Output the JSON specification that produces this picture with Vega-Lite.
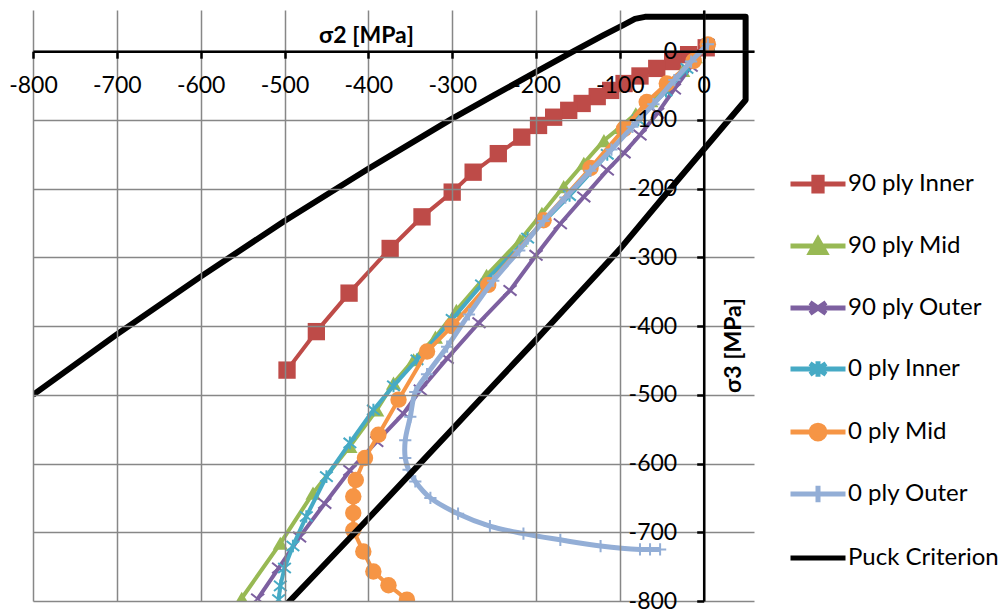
{
  "$schema": "https://vega.github.io/schema/vega-lite/v6.json",
  "width": 721,
  "height": 591,
  "autosize": "none",
  "padding": {"left": 33, "top": 10, "right": 253, "bottom": 9},
  "background": "white",
  "config": {"view": {"stroke": null}, "font": "Lato"},
  "data": {"values": [
    {"s":"90 ply Inner","x":3,"y":5},{"s":"90 ply Inner","x":-18,"y":-5},{"s":"90 ply Inner","x":-37,"y":-15},{"s":"90 ply Inner","x":-56,"y":-25},{"s":"90 ply Inner","x":-76,"y":-36},{"s":"90 ply Inner","x":-95,"y":-47},{"s":"90 ply Inner","x":-111,"y":-57},{"s":"90 ply Inner","x":-127,"y":-66},{"s":"90 ply Inner","x":-145,"y":-76},{"s":"90 ply Inner","x":-161,"y":-86},{"s":"90 ply Inner","x":-179,"y":-96},{"s":"90 ply Inner","x":-197,"y":-108},{"s":"90 ply Inner","x":-217,"y":-125},{"s":"90 ply Inner","x":-245,"y":-149},{"s":"90 ply Inner","x":-275,"y":-176},{"s":"90 ply Inner","x":-300,"y":-205},{"s":"90 ply Inner","x":-336,"y":-241},{"s":"90 ply Inner","x":-374,"y":-287},{"s":"90 ply Inner","x":-423,"y":-352},{"s":"90 ply Inner","x":-462,"y":-408},{"s":"90 ply Inner","x":-497,"y":-464},
    {"s":"90 ply Mid","x":5,"y":10},{"s":"90 ply Mid","x":-10,"y":-8},{"s":"90 ply Mid","x":-25,"y":-28},{"s":"90 ply Mid","x":-45,"y":-52},{"s":"90 ply Mid","x":-63,"y":-72},{"s":"90 ply Mid","x":-81,"y":-91},{"s":"90 ply Mid","x":-100,"y":-111},{"s":"90 ply Mid","x":-119,"y":-130},{"s":"90 ply Mid","x":-143,"y":-163},{"s":"90 ply Mid","x":-167,"y":-197},{"s":"90 ply Mid","x":-193,"y":-236},{"s":"90 ply Mid","x":-219,"y":-275},{"s":"90 ply Mid","x":-259,"y":-326},{"s":"90 ply Mid","x":-295,"y":-377},{"s":"90 ply Mid","x":-320,"y":-416},{"s":"90 ply Mid","x":-346,"y":-449},{"s":"90 ply Mid","x":-370,"y":-483},{"s":"90 ply Mid","x":-390,"y":-522},{"s":"90 ply Mid","x":-422,"y":-575},{"s":"90 ply Mid","x":-466,"y":-643},{"s":"90 ply Mid","x":-505,"y":-716},{"s":"90 ply Mid","x":-551,"y":-796},
    {"s":"90 ply Outer","x":5,"y":10},{"s":"90 ply Outer","x":-15,"y":-22},{"s":"90 ply Outer","x":-35,"y":-55},{"s":"90 ply Outer","x":-55,"y":-90},{"s":"90 ply Outer","x":-76,"y":-122},{"s":"90 ply Outer","x":-95,"y":-148},{"s":"90 ply Outer","x":-115,"y":-173},{"s":"90 ply Outer","x":-143,"y":-212},{"s":"90 ply Outer","x":-171,"y":-251},{"s":"90 ply Outer","x":-200,"y":-297},{"s":"90 ply Outer","x":-231,"y":-348},{"s":"90 ply Outer","x":-268,"y":-395},{"s":"90 ply Outer","x":-306,"y":-447},{"s":"90 ply Outer","x":-338,"y":-493},{"s":"90 ply Outer","x":-358,"y":-527},{"s":"90 ply Outer","x":-390,"y":-568},{"s":"90 ply Outer","x":-422,"y":-610},{"s":"90 ply Outer","x":-452,"y":-658},{"s":"90 ply Outer","x":-482,"y":-707},{"s":"90 ply Outer","x":-507,"y":-752},{"s":"90 ply Outer","x":-532,"y":-797},
    {"s":"0 ply Inner","x":5,"y":10},{"s":"0 ply Inner","x":-20,"y":-25},{"s":"0 ply Inner","x":-45,"y":-58},{"s":"0 ply Inner","x":-78,"y":-100},{"s":"0 ply Inner","x":-115,"y":-150},{"s":"0 ply Inner","x":-160,"y":-210},{"s":"0 ply Inner","x":-210,"y":-272},{"s":"0 ply Inner","x":-265,"y":-340},{"s":"0 ply Inner","x":-300,"y":-390},{"s":"0 ply Inner","x":-342,"y":-449},{"s":"0 ply Inner","x":-370,"y":-487},{"s":"0 ply Inner","x":-394,"y":-522},{"s":"0 ply Inner","x":-422,"y":-570},{"s":"0 ply Inner","x":-450,"y":-619},{"s":"0 ply Inner","x":-474,"y":-677},{"s":"0 ply Inner","x":-490,"y":-720},{"s":"0 ply Inner","x":-500,"y":-752},{"s":"0 ply Inner","x":-505,"y":-778},{"s":"0 ply Inner","x":-507,"y":-798},
    {"s":"0 ply Mid","x":5,"y":10},{"s":"0 ply Mid","x":-12,"y":-14},{"s":"0 ply Mid","x":-44,"y":-47},{"s":"0 ply Mid","x":-68,"y":-74},{"s":"0 ply Mid","x":-95,"y":-113},{"s":"0 ply Mid","x":-135,"y":-170},{"s":"0 ply Mid","x":-191,"y":-246},{"s":"0 ply Mid","x":-257,"y":-340},{"s":"0 ply Mid","x":-300,"y":-400},{"s":"0 ply Mid","x":-330,"y":-437},{"s":"0 ply Mid","x":-364,"y":-507},{"s":"0 ply Mid","x":-388,"y":-558},{"s":"0 ply Mid","x":-404,"y":-592},{"s":"0 ply Mid","x":-415,"y":-624},{"s":"0 ply Mid","x":-418,"y":-648},{"s":"0 ply Mid","x":-418,"y":-672},{"s":"0 ply Mid","x":-418,"y":-697},{"s":"0 ply Mid","x":-406,"y":-728},{"s":"0 ply Mid","x":-394,"y":-757},{"s":"0 ply Mid","x":-376,"y":-777},{"s":"0 ply Mid","x":-354,"y":-798},
    {"s":"0 ply Outer","x":5,"y":10},{"s":"0 ply Outer","x":-15,"y":-15},{"s":"0 ply Outer","x":-35,"y":-42},{"s":"0 ply Outer","x":-60,"y":-77},{"s":"0 ply Outer","x":-85,"y":-110},{"s":"0 ply Outer","x":-110,"y":-143},{"s":"0 ply Outer","x":-135,"y":-174},{"s":"0 ply Outer","x":-165,"y":-213},{"s":"0 ply Outer","x":-191,"y":-247},{"s":"0 ply Outer","x":-220,"y":-290},{"s":"0 ply Outer","x":-251,"y":-334},{"s":"0 ply Outer","x":-280,"y":-383},{"s":"0 ply Outer","x":-306,"y":-430},{"s":"0 ply Outer","x":-330,"y":-470},{"s":"0 ply Outer","x":-344,"y":-496},{"s":"0 ply Outer","x":-350,"y":-532},{"s":"0 ply Outer","x":-356,"y":-566},{"s":"0 ply Outer","x":-356,"y":-592},{"s":"0 ply Outer","x":-352,"y":-609},{"s":"0 ply Outer","x":-344,"y":-626},{"s":"0 ply Outer","x":-326,"y":-650},{"s":"0 ply Outer","x":-293,"y":-673},{"s":"0 ply Outer","x":-255,"y":-691},{"s":"0 ply Outer","x":-215,"y":-702},{"s":"0 ply Outer","x":-171,"y":-711},{"s":"0 ply Outer","x":-123,"y":-720},{"s":"0 ply Outer","x":-76,"y":-725},{"s":"0 ply Outer","x":-64,"y":-725},{"s":"0 ply Outer","x":-52,"y":-725},
    {"s":"Puck Criterion","x":-800,"y":-500},{"s":"Puck Criterion","x":-700,"y":-412},{"s":"Puck Criterion","x":-600,"y":-328},{"s":"Puck Criterion","x":-500,"y":-247},{"s":"Puck Criterion","x":-400,"y":-171},{"s":"Puck Criterion","x":-300,"y":-98},{"s":"Puck Criterion","x":-250,"y":-64},{"s":"Puck Criterion","x":-200,"y":-30},{"s":"Puck Criterion","x":-155,"y":0},{"s":"Puck Criterion","x":-120,"y":23},{"s":"Puck Criterion","x":-96,"y":38},{"s":"Puck Criterion","x":-82,"y":47},{"s":"Puck Criterion","x":-70,"y":50},{"s":"Puck Criterion","x":50,"y":50},{"s":"Puck Criterion","x":50,"y":-71},{"s":"Puck Criterion","x":0,"y":-143},{"s":"Puck Criterion","x":-50,"y":-215},{"s":"Puck Criterion","x":-100,"y":-288},{"s":"Puck Criterion","x":-150,"y":-354},{"s":"Puck Criterion","x":-200,"y":-420},{"s":"Puck Criterion","x":-250,"y":-485},{"s":"Puck Criterion","x":-300,"y":-550},{"s":"Puck Criterion","x":-350,"y":-615},{"s":"Puck Criterion","x":-400,"y":-680},{"s":"Puck Criterion","x":-450,"y":-744},{"s":"Puck Criterion","x":-500,"y":-808},{"s":"Puck Criterion","x":-520,"y":-834}
  ]},
  "encoding": {
    "x": {"field": "x", "type": "quantitative",
      "scale": {"domain": [-800, 60], "nice": false, "zero": false},
      "axis": {"orient": "bottom", "offset": -549.8, "values": [-800,-700,-600,-500,-400,-300,-200,-100,0],
        "labelExpr": "'' + datum.value",
        "grid": true, "gridColor": "#878787", "gridWidth": 1.5,
        "domainColor": "#000000", "domainWidth": 2.5, "tickColor": "#000000", "tickWidth": 2.5, "tickSize": 7,
        "labelFontSize": 23, "labelColor": "#000000", "labelPadding": 16, "labelFlush": false, "labelOverlap": false, "labelBound": false,
        "title": "σ2 [MPa]", "titleFontSize": 23, "titleFontWeight": "bold", "titleColor": "#000000",
        "titleX": 333, "titleY": -16, "titleBaseline": "middle", "titleAlign": "center", "zindex": 1}},
    "y": {"field": "y", "type": "quantitative",
      "scale": {"domain": [-800, 60], "nice": false, "zero": false},
      "axis": {"orient": "left", "offset": -670.7, "values": [-800,-700,-600,-500,-400,-300,-200,-100,0],
        "labelExpr": "'' + datum.value",
        "grid": true, "gridColor": "#878787", "gridWidth": 1.5,
        "domainColor": "#000000", "domainWidth": 2.5, "tickColor": "#000000", "tickWidth": 2.5, "tickSize": 7,
        "labelFontSize": 23, "labelColor": "#000000", "labelPadding": 20, "labelOverlap": false, "labelBound": false, "labelFlush": false,
        "title": "σ3 [MPa]", "titleFontSize": 23, "titleFontWeight": "bold", "titleColor": "#000000",
        "titleX": 30, "titleY": 335, "titleAngle": 270, "titleBaseline": "middle", "titleAlign": "center", "zindex": 1}}
  },
  "layer": [
    {"transform": [{"filter": "datum.s === '90 ply Inner'"}],
     "mark": {"type": "line", "color": "#BE4B48", "strokeWidth": 4, "clip": true,
       "point": {"shape": "square", "size": 300, "filled": true, "color": "#BE4B48", "clip": true}},
     "encoding": {"order": {"value": null}}},
    {"transform": [{"filter": "datum.s === '90 ply Mid'"}],
     "mark": {"type": "line", "color": "#98B954", "strokeWidth": 4, "clip": true,
       "point": {"shape": "triangle-up", "size": 230, "filled": true, "color": "#98B954", "clip": true}},
     "encoding": {"order": {"value": null}}},
    {"transform": [{"filter": "datum.s === '90 ply Outer'"}],
     "mark": {"type": "line", "color": "#7D60A0", "strokeWidth": 4, "clip": true,
       "point": {"shape": "M-1,-0.8L1,0.8M-1,0.8L1,-0.8", "size": 170, "filled": false, "strokeWidth": 2, "color": "#7D60A0", "clip": true}},
     "encoding": {"order": {"value": null}}},
    {"transform": [{"filter": "datum.s === '0 ply Inner'"}],
     "mark": {"type": "line", "color": "#46AAC5", "strokeWidth": 4, "clip": true,
       "point": {"shape": "M-1,-0.8L1,0.8M-1,0.8L1,-0.8M0,-1V1", "size": 160, "filled": false, "strokeWidth": 2, "color": "#46AAC5", "clip": true}},
     "encoding": {"order": {"value": null}}},
    {"transform": [{"filter": "datum.s === '0 ply Mid'"}],
     "mark": {"type": "line", "color": "#F69545", "strokeWidth": 4, "clip": true,
       "point": {"shape": "circle", "size": 270, "filled": true, "color": "#F69545", "opacity": 1, "clip": true}},
     "encoding": {"order": {"value": null}}},
    {"transform": [{"filter": "datum.s === '0 ply Outer'"}],
     "mark": {"type": "line", "color": "#93AED6", "strokeWidth": 5, "interpolate": "catmull-rom", "clip": true,
       "point": {"shape": "M-1,0H1M0,-1V1", "size": 150, "filled": false, "strokeWidth": 2, "color": "#93AED6", "clip": true}},
     "encoding": {"order": {"value": null}}},
    {"transform": [{"filter": "datum.s === 'Puck Criterion'"}],
     "mark": {"type": "line", "color": "#000000", "strokeWidth": 6, "strokeJoin": "round", "clip": true},
     "encoding": {"order": {"value": null}}},
    {"transform": [{"filter": "datum.s === 'Puck Criterion'"}],
     "mark": {"type": "point", "opacity": 0, "clip": true},
     "encoding": {
       "fill": {"field": "s", "type": "nominal",
         "scale": {"domain": ["90 ply Inner","90 ply Mid","90 ply Outer","0 ply Inner","0 ply Mid","0 ply Outer","Puck Criterion"],
                   "range": ["#BE4B48","#98B954","#7D60A0","#46AAC5","#F69545","#93AED6","#000000"]}},
       "stroke": {"field": "s", "type": "nominal",
         "scale": {"domain": ["90 ply Inner","90 ply Mid","90 ply Outer","0 ply Inner","0 ply Mid","0 ply Outer","Puck Criterion"],
                   "range": ["#BE4B48","#98B954","#7D60A0","#46AAC5","#F69545","#93AED6","#000000"]}},
       "shape": {"field": "s", "type": "nominal",
         "scale": {"domain": ["90 ply Inner","90 ply Mid","90 ply Outer","0 ply Inner","0 ply Mid","0 ply Outer","Puck Criterion"],
                   "range": [
                     "M-1,0H1M-0.15,-0.25H0.15V0.25H-0.15Z",
                     "M-1,0H1M0,-0.24L0.27,0.24H-0.27Z",
                     "M-1,0H1M-0.29,-0.2L0.29,0.2M-0.29,0.2L0.29,-0.2",
                     "M-1,0H1M-0.29,-0.2L0.29,0.2M-0.29,0.2L0.29,-0.2M0,-0.28V0.28",
                     "M-1,0H1M-0.25,0A0.25,0.25 0 1,1 0.25,0A0.25,0.25 0 1,1 -0.25,0Z",
                     "M-1,0H1M0,-0.3V0.3",
                     "M-1,0H1"]},
         "legend": {"orient": "none", "legendX": 755, "legendY": 144, "title": null, "padding": 0,
           "symbolSize": 3025, "symbolStrokeWidth": 5, "symbolOpacity": 1, "labelFontSize": 24, "labelColor": "#000000",
           "labelOffset": 0, "rowPadding": 15, "labelLimit": 0}}
     }}
  ]
}
